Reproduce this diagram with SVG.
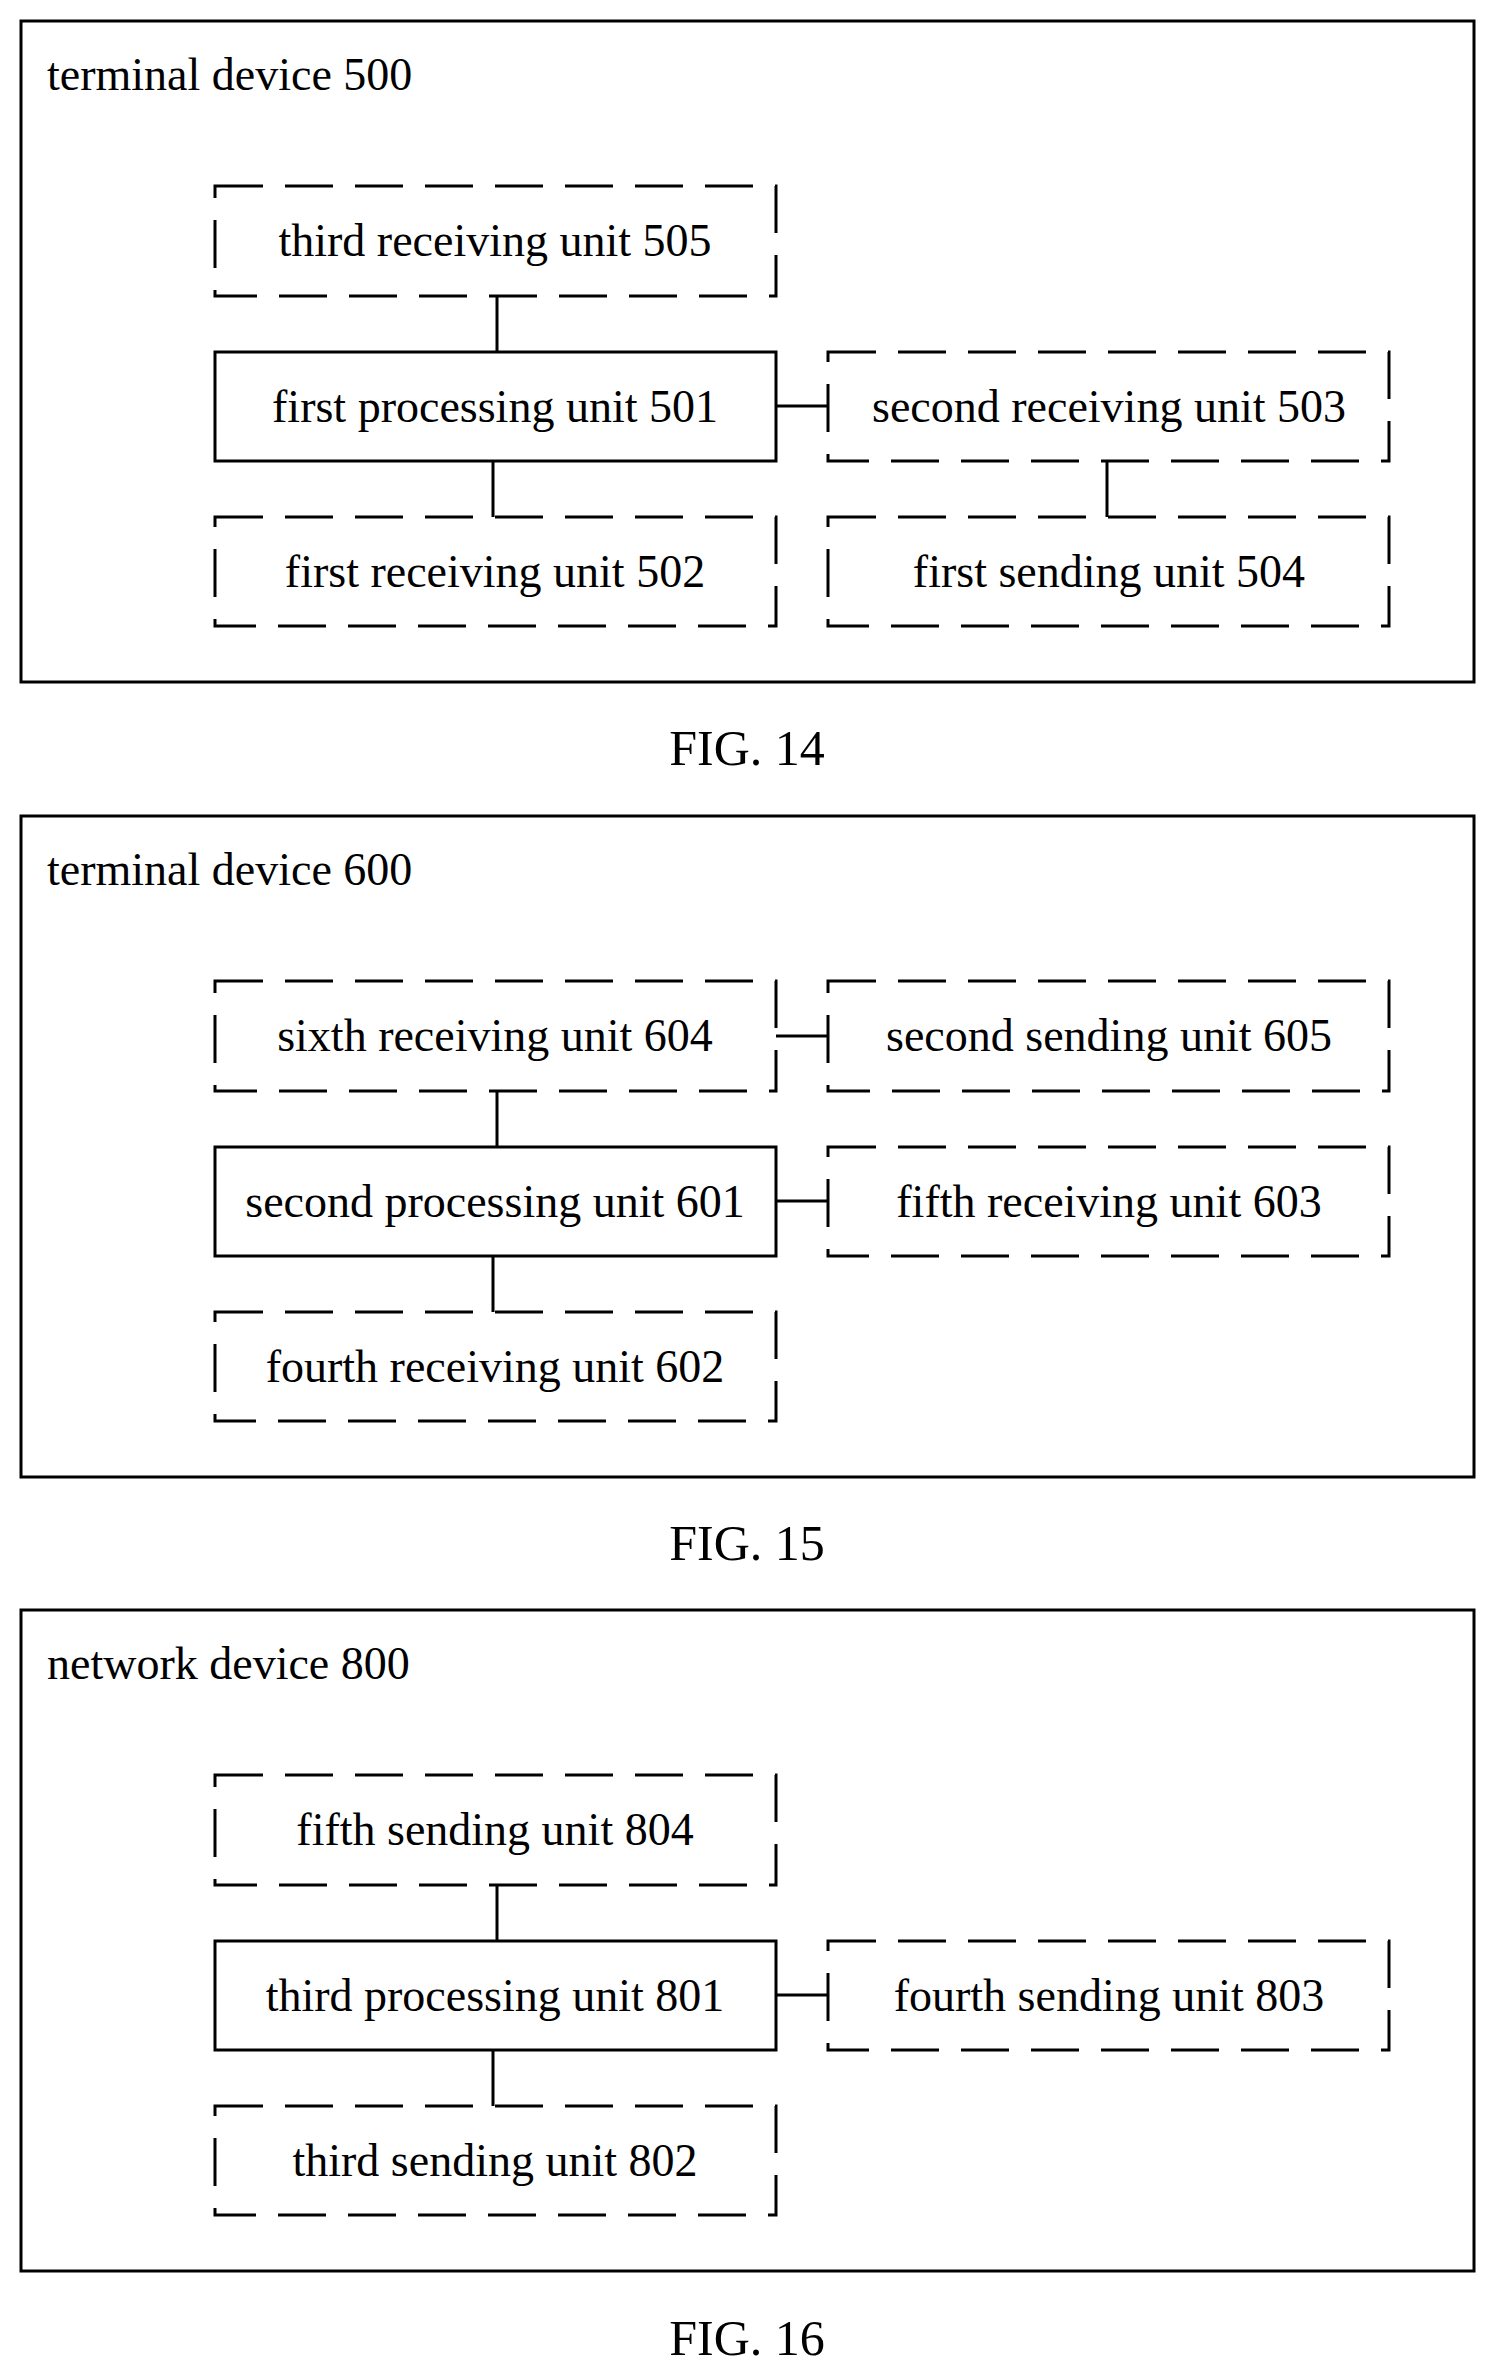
<svg xmlns="http://www.w3.org/2000/svg" width="1495" height="2377" viewBox="0 0 1495 2377">
<style>
text{font-family:"Liberation Serif","Times New Roman",serif;font-size:46px;fill:#000}
.c{text-anchor:middle}
.f{font-size:50px}
.o{fill:none;stroke:#000;stroke-width:3}
.s{fill:#fff;stroke:#000;stroke-width:3}
.d{fill:#fff;stroke:#000;stroke-width:3;stroke-dasharray:48 22}
.l{stroke:#000;stroke-width:3;fill:none}
</style>
<rect width="1495" height="2377" fill="#fff"/>
<g id="fig14">
<rect class="o" x="21" y="21" width="1453" height="661"/>
<text x="47" y="90">terminal device 500</text>
<text class="c f" x="747" y="765">FIG. 14</text>
</g>
<g id="connectors14">
<path class="l" d="M497 296V352M493 461V517M776 406H828M1107 461V517"/>
</g>
<g id="n505"><rect class="d" x="215" y="186" width="561" height="110"/><text class="c" x="495" y="256">third receiving unit 505</text></g>
<g id="n501"><rect class="s" x="215" y="352" width="561" height="109"/><text class="c" x="495" y="422">first processing unit 501</text></g>
<g id="n502"><rect class="d" x="215" y="517" width="561" height="109"/><text class="c" x="495" y="587">first receiving unit 502</text></g>
<g id="n503"><rect class="d" x="828" y="352" width="561" height="109"/><text class="c" x="1109" y="422">second receiving unit 503</text></g>
<g id="n504"><rect class="d" x="828" y="517" width="561" height="109"/><text class="c" x="1109" y="587">first sending unit 504</text></g>

<g id="fig15">
<rect class="o" x="21" y="816" width="1453" height="661"/>
<text x="47" y="885">terminal device 600</text>
<text class="c f" x="747" y="1560">FIG. 15</text>
</g>
<g id="connectors15">
<path class="l" d="M497 1091V1147M493 1256V1312M776 1036H828M776 1201H828"/>
</g>
<g id="n604"><rect class="d" x="215" y="981" width="561" height="110"/><text class="c" x="495" y="1051">sixth receiving unit 604</text></g>
<g id="n605"><rect class="d" x="828" y="981" width="561" height="110"/><text class="c" x="1109" y="1051">second sending unit 605</text></g>
<g id="n601"><rect class="s" x="215" y="1147" width="561" height="109"/><text class="c" x="495" y="1217">second processing unit 601</text></g>
<g id="n603"><rect class="d" x="828" y="1147" width="561" height="109"/><text class="c" x="1109" y="1217">fifth receiving unit 603</text></g>
<g id="n602"><rect class="d" x="215" y="1312" width="561" height="109"/><text class="c" x="495" y="1382">fourth receiving unit 602</text></g>

<g id="fig16">
<rect class="o" x="21" y="1610" width="1453" height="661"/>
<text x="47" y="1679">network device 800</text>
<text class="c f" x="747" y="2355">FIG. 16</text>
</g>
<g id="connectors16">
<path class="l" d="M497 1885V1941M493 2050V2106M776 1995H828"/>
</g>
<g id="n804"><rect class="d" x="215" y="1775" width="561" height="110"/><text class="c" x="495" y="1845">fifth sending unit 804</text></g>
<g id="n801"><rect class="s" x="215" y="1941" width="561" height="109"/><text class="c" x="495" y="2011">third processing unit 801</text></g>
<g id="n803"><rect class="d" x="828" y="1941" width="561" height="109"/><text class="c" x="1109" y="2011">fourth sending unit 803</text></g>
<g id="n802"><rect class="d" x="215" y="2106" width="561" height="109"/><text class="c" x="495" y="2176">third sending unit 802</text></g>
</svg>
